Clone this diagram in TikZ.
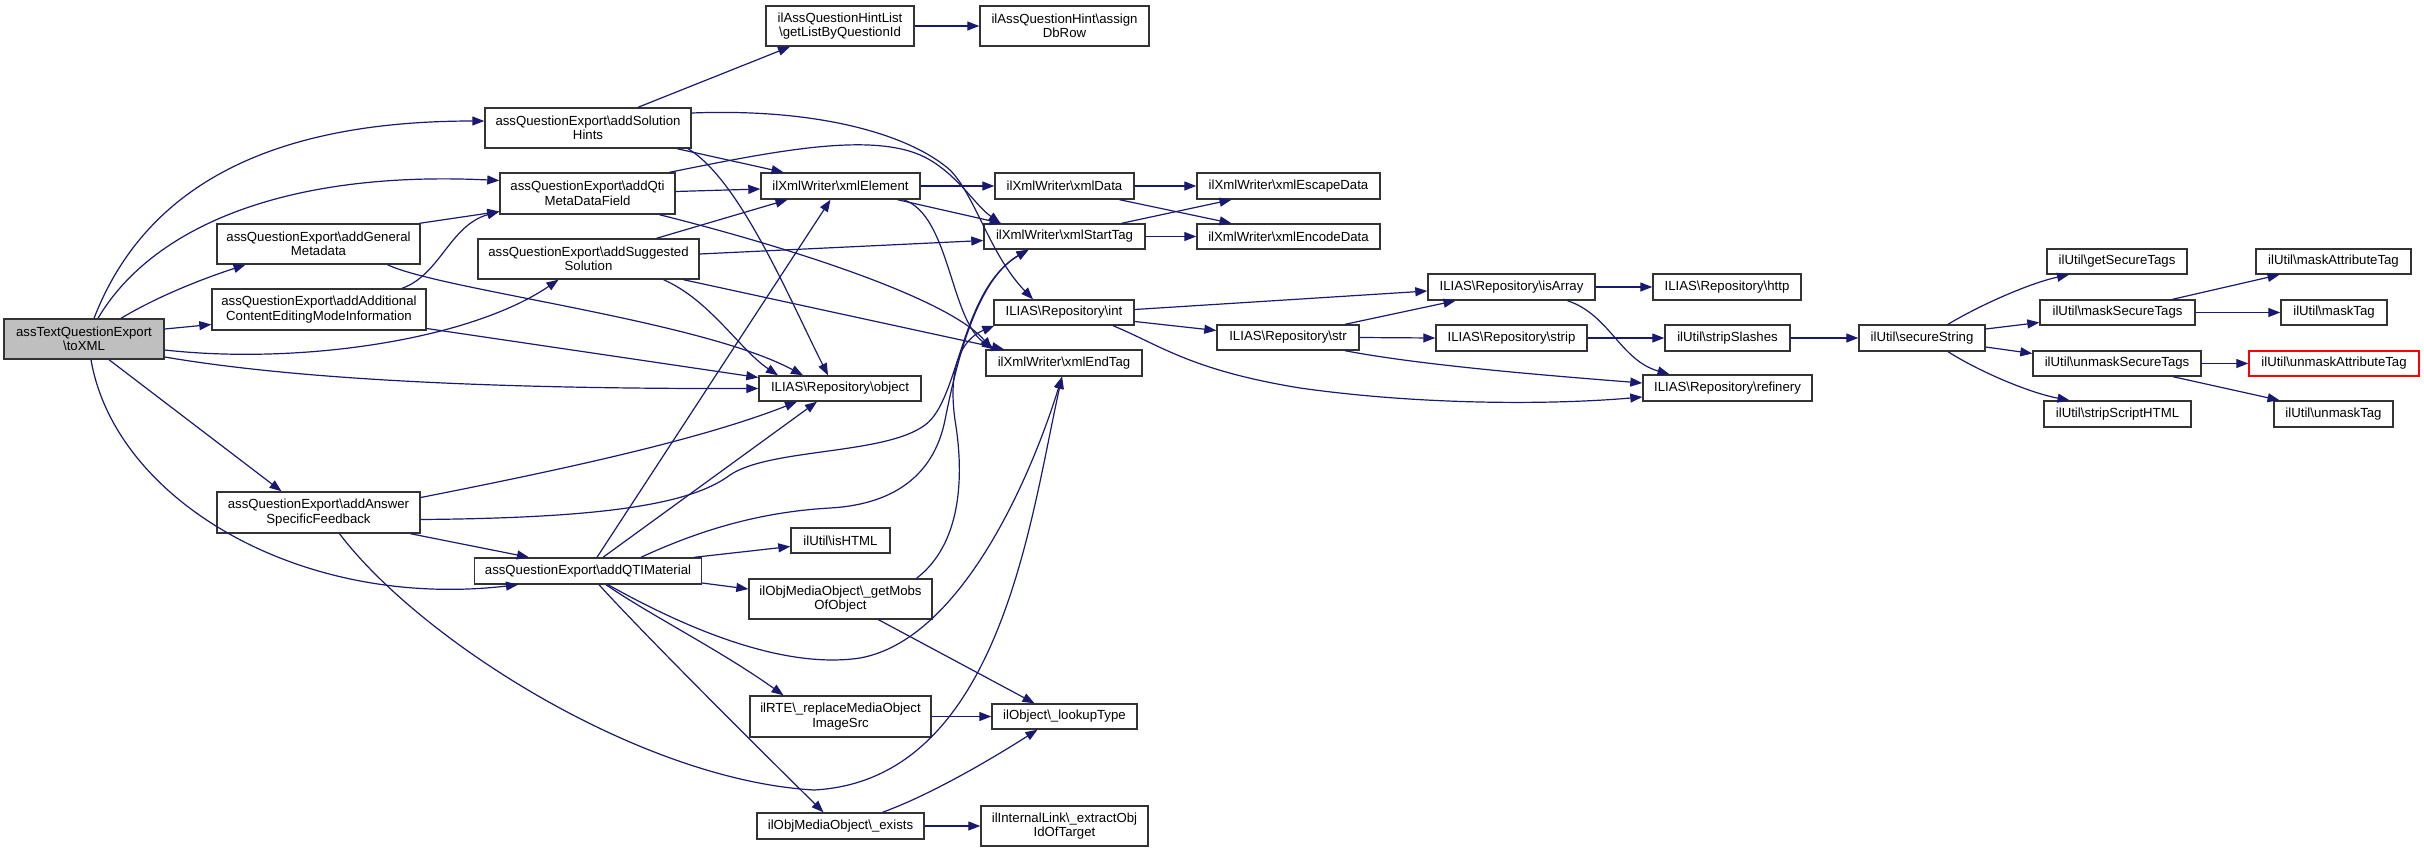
\documentclass[tikz,border=0pt]{standalone}
\usepackage{fontspec}
\setmainfont{Liberation Sans}
\usetikzlibrary{arrows.meta,calc}
\definecolor{edgec}{HTML}{191970}
\definecolor{boxc}{HTML}{333333}
\tikzset{
  box/.style={draw=boxc, line width=1.4pt, inner sep=0pt,
    font=\fontsize{13.2}{14.5}\selectfont, text=black},
  bs/.style 2 args={minimum width=#1, minimum height=#2},
  e/.style={draw=edgec, line width=1.2pt, -{Triangle[length=12pt,width=9pt]}}
}
\newcommand{\bsl}{\textbackslash}
\newsavebox{\twboxa}
\newsavebox{\twboxb}
\newlength{\twwid}
\newcommand{\twoline}[2]{%
  \sbox{\twboxa}{#1}\sbox{\twboxb}{#2}%
  \setlength{\twwid}{\wd\twboxa}%
  \ifdim\wd\twboxb>\twwid\setlength{\twwid}{\wd\twboxb}\fi
  \vbox{\baselineskip=14.5pt\lineskiplimit=0pt
    \moveright\dimexpr(\twwid-\wd\twboxa)/2\relax\copy\twboxa
    \moveright\dimexpr(\twwid-\wd\twboxb)/2\relax\copy\twboxb}}
\begin{document}
\begin{tikzpicture}[x=1pt,y=-1pt]
\useasboundingbox (0,0) rectangle (2424,852);
% nodes
\node[box,bs={160pt}{40pt},fill=gray!50] (toXML) at (84,339) {\twoline{assTextQuestionExport}{\bsl toXML}};
\node[box,bs={206pt}{40pt}] (addSol) at (588,128) {\twoline{assQuestionExport\bsl addSolution}{Hints}};
\node[box,bs={175pt}{41pt}] (addQti) at (587.5,193.5) {\twoline{assQuestionExport\bsl addQti}{MetaDataField}};
\node[box,bs={203pt}{40pt}] (addGen) at (318.5,244) {\twoline{assQuestionExport\bsl addGeneral}{Metadata}};
\node[box,bs={221pt}{40pt}] (addSug) at (588.5,259) {\twoline{assQuestionExport\bsl addSuggested}{Solution}};
\node[box,bs={214pt}{41pt}] (addAdd) at (319,309.5) {\twoline{assQuestionExport\bsl addAdditional}{ContentEditingModeInformation}};
\node[box,bs={203pt}{41pt}] (addAns) at (318.5,512.5) {\twoline{assQuestionExport\bsl addAnswer}{SpecificFeedback}};
\node[box,bs={227pt}{26pt}] (addQTI) at (588,571) {assQuestionExport\bsl addQTIMaterial};
\node[box,bs={148pt}{40pt}] (hintList) at (840,26) {\twoline{ilAssQuestionHintList}{\bsl getListByQuestionId}};
\node[box,bs={169pt}{40pt}] (assign) at (1064.5,26) {\twoline{ilAssQuestionHint\bsl assign}{DbRow}};
\node[box,bs={159pt}{26pt}] (xmlElem) at (840.5,186) {ilXmlWriter\bsl xmlElement};
\node[box,bs={139pt}{26pt}] (xmlData) at (1064.5,186) {ilXmlWriter\bsl xmlData};
\node[box,bs={183pt}{26pt}] (xmlEsc) at (1288.5,186) {ilXmlWriter\bsl xmlEscapeData};
\node[box,bs={161pt}{25pt}] (xmlStart) at (1064.5,236.5) {ilXmlWriter\bsl xmlStartTag};
\node[box,bs={183pt}{25pt}] (xmlEnc) at (1288.5,236.5) {ilXmlWriter\bsl xmlEncodeData};
\node[box,bs={140pt}{25pt}] (int) at (1064,312.5) {ILIAS\bsl Repository\bsl int};
\node[box,bs={142pt}{25pt}] (str) at (1288,337.5) {ILIAS\bsl Repository\bsl str};
\node[box,bs={156pt}{26pt}] (xmlEnd) at (1064,363) {ilXmlWriter\bsl xmlEndTag};
\node[box,bs={162pt}{25pt}] (object) at (840,388.5) {ILIAS\bsl Repository\bsl object};
\node[box,bs={99pt}{25pt}] (isHTML) at (840.5,540.5) {ilUtil\bsl isHTML};
\node[box,bs={183pt}{40pt}] (getMobs) at (840.5,599) {\twoline{ilObjMediaObject\bsl\_getMobs}{OfObject}};
\node[box,bs={181pt}{41pt}] (replace) at (840.5,716.5) {\twoline{ilRTE\bsl\_replaceMediaObject}{ImageSrc}};
\node[box,bs={145pt}{25pt}] (lookup) at (1064.5,716.5) {ilObject\bsl\_lookupType};
\node[box,bs={167pt}{26pt}] (exists) at (840.5,826) {ilObjMediaObject\bsl\_exists};
\node[box,bs={167pt}{40pt}] (intLink) at (1064.5,826) {\twoline{ilInternalLink\bsl\_extractObj}{IdOfTarget}};
\node[box,bs={167pt}{26pt}] (isArray) at (1511.5,287) {ILIAS\bsl Repository\bsl isArray};
\node[box,bs={148pt}{26pt}] (http) at (1727,287) {ILIAS\bsl Repository\bsl http};
\node[box,bs={151pt}{26pt}] (strip) at (1511.5,338) {ILIAS\bsl Repository\bsl strip};
\node[box,bs={125pt}{26pt}] (stripSl) at (1727.5,338) {ilUtil\bsl stripSlashes};
\node[box,bs={169pt}{26pt}] (refinery) at (1727.5,388) {ILIAS\bsl Repository\bsl refinery};
\node[box,bs={126pt}{26pt}] (secure) at (1922,338) {ilUtil\bsl secureString};
\node[box,bs={140pt}{25pt}] (getSec) at (2117,261.5) {ilUtil\bsl getSecureTags};
\node[box,bs={155pt}{25pt}] (maskSec) at (2117.5,312.5) {ilUtil\bsl maskSecureTags};
\node[box,bs={168pt}{25pt}] (unmaskSec) at (2117,363.5) {ilUtil\bsl unmaskSecureTags};
\node[box,bs={147pt}{26pt}] (stripScript) at (2117.5,414) {ilUtil\bsl stripScriptHTML};
\node[box,bs={155pt}{25pt}] (maskAttr) at (2333.5,261.5) {ilUtil\bsl maskAttributeTag};
\node[box,bs={106pt}{25pt}] (maskTag) at (2334,312.5) {ilUtil\bsl maskTag};
\node[box,bs={170pt}{25pt},draw=red] (unmaskAttr) at (2334,363.5) {ilUtil\bsl unmaskAttributeTag};
\node[box,bs={119pt}{26pt}] (unmaskTag) at (2333.5,414) {ilUtil\bsl unmaskTag};
% edges from toXML
\draw[e] ($(toXML.north)+(10,0)$) .. controls (140,200) and (250,121) .. ($(addSol.west)+(0,-7)$);
\draw[e] ($(toXML.north)+(14,0)$) .. controls (150,230) and (280,170) .. ($(addQti.west)+(0,-13)$);
\draw[e] ($(toXML.north)+(37,0)$) .. controls (160,295) and (205,278) .. ($(addGen.south)+(-73,0)$);
\draw[e] ($(toXML.east)+(0,-10)$) -- ($(addAdd.west)+(0,15)$);
\draw[e] ($(toXML.east)+(0,11)$) .. controls (300,365) and (470,340) .. ($(addSug.south)+(-30,0)$);
\draw[e] ($(toXML.east)+(0,18)$) .. controls (300,380) and (500,389) .. (object.west);
\draw[e] ($(toXML.south)+(25,0)$) -- ($(addAns.north)+(-37,0)$);
\draw[e] ($(toXML.south)+(7,0)$) .. controls (115,500) and (300,610) .. ($(addQTI.south)+(-70,0)$);
% addSolutionHints
\draw[e] ($(addSol.north)+(50,0)$) -- ($(hintList.south)+(-50,0)$);
\draw[e] ($(addSol.south)+(89,0)$) -- ($(xmlElem.north)+(-57,0)$);
\draw[e] ($(addSol.south)+(100,0)$) .. controls (740,180) and (790,300) .. ($(object.north)+(-12,0)$);
\draw[e] ($(addSol.east)+(0,-15)$) .. controls (820,108) and (910,135) .. (950,170) .. controls (975,195) and (990,255) .. ($(int.north)+(-31,0)$);
% addQtiMetaDataField
\draw[e] ($(addQti.north)+(82,0)$) .. controls (780,150) and (880,130) .. (930,160) .. controls (960,178) and (975,205) .. ($(xmlStart.north)+(-64,0)$);
\draw[e] ($(addQti.east)+(0,-2)$) -- ($(xmlElem.west)+(0,3)$);
\draw[e] ($(addQti.south)+(72,0)$) .. controls (800,250) and (950,300) .. ($(xmlEnd.north)+(-72,0)$);
% addGeneralMetadata / addAdditional
\draw[e] ($(addGen.north)+(101,0)$) -- ($(addQti.west)+(0,18)$);
\draw[e] ($(addAdd.north)+(83,0)$) .. controls (440,275) and (450,225) .. ($(addQti.west)+(0,18)$);
\draw[e] ($(addAdd.east)+(0,19)$) -- ($(object.west)+(0,-11)$);
\draw[e] ($(addGen.south)+(69,0)$) .. controls (440,290) and (700,320) .. ($(object.north)+(-37,0)$);
% addSuggestedSolution
\draw[e] ($(addSug.south)+(75,0)$) .. controls (710,300) and (740,350) .. ($(object.north)+(-62,0)$);
\draw[e] ($(addSug.north)+(68,0)$) -- ($(xmlElem.south)+(-53,0)$);
\draw[e] ($(addSug.east)+(0,-5)$) -- ($(xmlStart.west)+(0,4)$);
\draw[e] ($(addSug.south)+(95,0)$) -- ($(xmlEnd.north)+(-60,0)$);
% xml writer
\draw[e] (xmlElem.east) -- (xmlData.west);
\draw[e] ($(xmlElem.south)+(57,0)$) -- ($(xmlStart.north)+(-63,0)$);
\draw[e] ($(xmlElem.south)+(63,0)$) .. controls (950,215) and (950,320) .. ($(xmlEnd.north)+(-70,0)$);
\draw[e] (xmlData.east) -- (xmlEsc.west);
\draw[e] ($(xmlData.south)+(55,0)$) -- ($(xmlEnc.north)+(-57,0)$);
\draw[e] ($(xmlStart.north)+(57,0)$) -- ($(xmlEsc.south)+(-57,0)$);
\draw[e] (xmlStart.east) -- (xmlEnc.west);
% repository
\draw[e] ($(int.east)+(0,-3)$) -- ($(isArray.west)+(0,4)$);
\draw[e] ($(int.east)+(0,9)$) -- ($(str.west)+(0,-7)$);
\draw[e] ($(int.south)+(49,0)$) .. controls (1160,345) and (1190,370) .. (1300,388) .. controls (1420,405) and (1550,405) .. ($(refinery.west)+(0,9)$);
\draw[e] ($(str.north)+(57,0)$) -- ($(isArray.south)+(-56,0)$);
\draw[e] (str.east) -- (strip.west);
\draw[e] ($(str.south)+(57,0)$) .. controls (1420,365) and (1540,375) .. ($(refinery.west)+(0,-5)$);
\draw[e] (isArray.east) -- (http.west);
\draw[e] ($(isArray.south)+(56,0)$) .. controls (1610,315) and (1620,360) .. ($(refinery.north)+(-58,0)$);
\draw[e] (strip.east) -- (stripSl.west);
\draw[e] (stripSl.east) -- (secure.west);
% ilUtil
\draw[e] ($(secure.north)+(26,0)$) .. controls (1980,305) and (2030,283) .. ($(getSec.south)+(-48,0)$);
\draw[e] ($(secure.east)+(0,-9)$) -- ($(maskSec.west)+(0,10)$);
\draw[e] ($(secure.east)+(0,9)$) -- ($(unmaskSec.west)+(0,-10)$);
\draw[e] ($(secure.south)+(26,0)$) .. controls (1980,372) and (2030,393) .. ($(stripScript.north)+(-48,0)$);
\draw[e] ($(maskSec.north)+(55,0)$) -- ($(maskAttr.south)+(-54,0)$);
\draw[e] (maskSec.east) -- (maskTag.west);
\draw[e] (unmaskSec.east) -- (unmaskAttr.west);
\draw[e] ($(unmaskSec.south)+(56,0)$) -- ($(unmaskTag.north)+(-54,0)$);
\draw[e] (hintList.east) -- (assign.west);
% addAnswerSpecificFeedback
\draw[e] ($(addAns.east)+(0,-15)$) .. controls (560,470) and (700,440) .. ($(object.south)+(-43,0)$);
\draw[e] ($(addAns.east)+(0,7)$) .. controls (600,518) and (690,505) .. (730,475) .. controls (770,448) and (885,455) .. (925,425) .. controls (960,400) and (960,290) .. ($(xmlStart.south)+(-36,0)$);
\draw[e] ($(addAns.south)+(21,0)$) .. controls (420,640) and (640,780) .. (814,790) .. controls (1000,780) and (1030,520) .. ($(xmlEnd.south)+(-2,0)$);
\draw[e] ($(addAns.south)+(92,0)$) -- ($(addQTI.north)+(-59,0)$);
% addQTIMaterial
\draw[e] ($(addQTI.north)+(53,0)$) .. controls (700,530) and (760,512) .. (830,508) .. controls (900,504) and (935,470) .. (945,420) .. controls (955,370) and (975,280) .. ($(xmlStart.south)+(-36,0)$);
\draw[e] ($(addQTI.north)+(9,0)$) -- ($(xmlElem.south)+(-10,0)$);
\draw[e] ($(addQTI.north)+(15,0)$) -- ($(object.south)+(-23,0)$);
\draw[e] ($(addQTI.north east)+(-8,0)$) -- ($(isHTML.west)+(0,6)$);
\draw[e] ($(addQTI.east)+(0,12)$) -- ($(getMobs.west)+(0,-10)$);
\draw[e] ($(addQTI.south)+(18,0)$) .. controls (650,615) and (720,650) .. ($(replace.north)+(-57,0)$);
\draw[e] ($(addQTI.south)+(11,0)$) .. controls (640,630) and (750,740) .. ($(exists.north)+(-17,0)$);
\draw[e] ($(addQTI.south)+(20,0)$) .. controls (680,625) and (780,670) .. (860,658) .. controls (960,640) and (1030,480) .. ($(xmlEnd.south)+(-2,0)$);
% media objects
\draw[e] ($(getMobs.north)+(76,0)$) .. controls (960,545) and (965,480) .. (955,420) .. controls (948,370) and (960,340) .. ($(int.south west)+(1,0)$);
\draw[e] ($(getMobs.south)+(38,0)$) -- ($(lookup.north)+(-30,0)$);
\draw[e] (replace.east) -- (lookup.west);
\draw[e] ($(exists.north)+(42,0)$) .. controls (930,795) and (990,760) .. ($(lookup.south)+(-27,0)$);
\draw[e] (exists.east) -- (intLink.west);
\end{tikzpicture}
\end{document}
